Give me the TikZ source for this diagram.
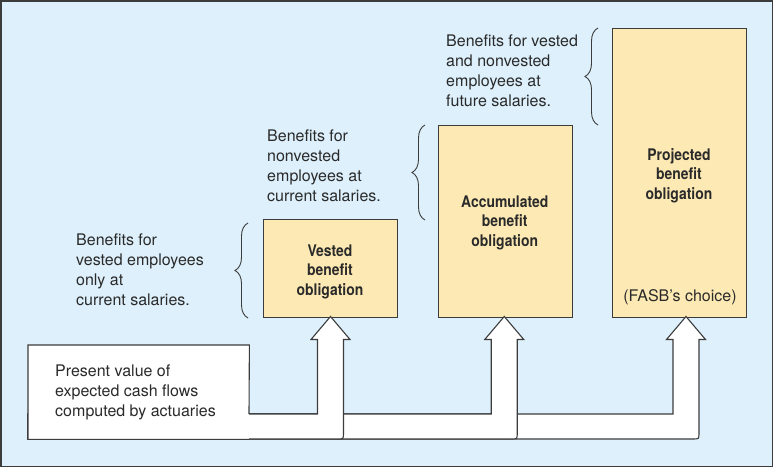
\documentclass[tikz,border=0pt]{standalone}
\usepackage{fontspec}
\setmainfont{TeX Gyre Heros}
\newfontfamily\condfont{TeX Gyre Heros}[FakeStretch=0.87]
\usetikzlibrary{decorations.pathreplacing,calc}
\definecolor{bgblue}{HTML}{DDF0FB}
\definecolor{boxyellow}{HTML}{FCE9B3}
\definecolor{linegray}{HTML}{3C3C3C}
\definecolor{textgray}{HTML}{2A2A2A}
\newcommand\flowarrow[2]{%
  \draw[flow] (28,414) -- ({#1-13},414) -- ({#1-13},339.5) -- ({#1-19.5},339.5)
    -- (#1,316.5) coordinate (#2) -- ({#1+19.5},339.5) -- ({#1+13},339.5)
    -- ({#1+13},433) .. controls ({#1+13},439) .. ({#1+7},439) -- (28,439) -- cycle;}
\begin{document}
\begin{tikzpicture}[x=1pt,y=-1pt,
  ybox/.style={draw=linegray, line width=1.2pt, fill=boxyellow, inner sep=0pt, anchor=north west},
  boxlabel/.style={font=\condfont\bfseries\fontsize{16}{19.5}\selectfont, align=center, text=textgray, inner sep=0pt},
  note/.style={font=\fontsize{16}{20}\selectfont, align=left, text=textgray, anchor=north west, inner sep=0pt},
  flow/.style={draw=linegray, line width=1.1pt, fill=white, line join=miter},
  bracestyle/.style={draw=linegray, line width=0.9pt, decorate, decoration={brace, amplitude=13pt}}]
\useasboundingbox (0,0) rectangle (774,468);
\draw[draw=linegray, fill=bgblue, line width=1.5pt] (1,1) rectangle (772.5,466.5);

% boxes
\node[ybox, minimum width=134, minimum height=97.5] (vested) at (263,219) {};
\node[ybox, minimum width=134.5, minimum height=191.5] (accum) at (437.5,125) {};
\node[ybox, minimum width=134, minimum height=288.5] (proj) at (612,28) {};

\node[boxlabel] (lv) at (330,271.5) {Vested\\benefit\\obligation};
\node[boxlabel] (la) at (504.75,222.5) {Accumulated\\benefit\\obligation};
\node[boxlabel] (lp) at (679,175.5) {Projected\\benefit\\obligation};
\node[font=\fontsize{16}{20}\selectfont, text=textgray, inner sep=0pt] (fasb) at (680,297) {(FASB’s choice)};

% flow arrows
\flowarrow{686}{tip3}
\flowarrow{504.25}{tip2}
\flowarrow{330.5}{tip1}

% present value box
\node[fill=white, minimum width=221, minimum height=94, inner sep=0pt, anchor=north west] (pv) at (28,345) {};
\draw[linegray, line width=1.1pt] (249,414) -- (pv.north east) -- (pv.north west) -- (pv.south west) -- (pv.south east);
\node[note] (pvtext) at (55,365) {Present value of\\expected cash flows\\computed by actuaries};

% braces
\coordinate (b1a) at (248,318); \coordinate (b1b) at (248,223);
\coordinate (b2a) at (425,220); \coordinate (b2b) at (425,125);
\coordinate (b3a) at (598,125); \coordinate (b3b) at (598,28);
\draw[bracestyle] (b1a) -- (b1b);
\draw[bracestyle] (b2a) -- (b2b);
\draw[bracestyle] (b3a) -- (b3b);

% notes
\node[note] (t1) at (76,234) {Benefits for\\vested employees\\only at\\current salaries.};
\node[note] (t2) at (267,130) {Benefits for\\nonvested\\employees at\\current salaries.};
\node[note] (t3) at (446,35) {Benefits for vested\\and nonvested\\employees at\\future salaries.};
\end{tikzpicture}
\end{document}
